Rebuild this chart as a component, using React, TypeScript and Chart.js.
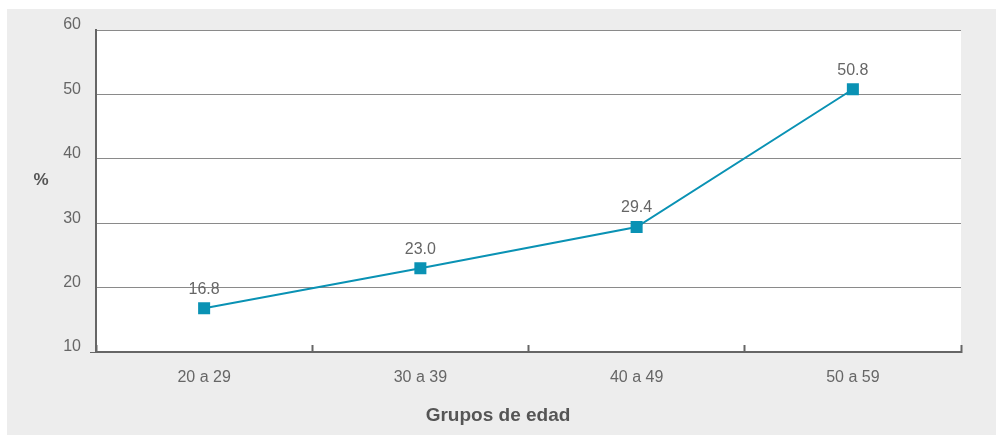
import React, { useEffect, useRef } from "react";
import { Chart, registerables } from "chart.js";

Chart.register(...registerables);

const categories = ["20 a 29", "30 a 39", "40 a 49", "50 a 59"];
const values = [16.8, 23.0, 29.4, 50.8];
const yTicks = [10, 20, 30, 40, 50, 60];
const xTitle = "Grupos de edad";
const yTitle = "%";

const FONT = "'Liberation Sans', Arial, sans-serif";
const TEXT = "#666666";
const LINE = "#0a92b4";

const bgPlugin = {
  id: "bg",
  beforeDraw(chart: any) {
    const { ctx, chartArea } = chart;
    ctx.save();
    ctx.fillStyle = "#ffffff";
    ctx.fillRect(0, 0, chart.width, chart.height);
    ctx.fillStyle = "#ededed";
    ctx.fillRect(7, 9, chart.width - 7, chart.height - 9);
    ctx.fillStyle = "#ffffff";
    ctx.fillRect(chartArea.left, chartArea.top, chartArea.right - chartArea.left, chartArea.bottom - chartArea.top);
    ctx.restore();
  },
};

const labelsPlugin = {
  id: "labels",
  afterDraw(chart: any) {
    const { ctx } = chart;
    const meta = chart.getDatasetMeta(0);
    ctx.save();
    ctx.fillStyle = TEXT;
    ctx.font = `16px ${FONT}`;
    ctx.textAlign = "center";
    ctx.textBaseline = "middle";
    meta.data.forEach((pt: any, i: number) => {
      ctx.fillText(values[i].toFixed(1), pt.x, pt.y - 19);
    });
    ctx.fillStyle = "#555555";
    ctx.font = `bold 19px ${FONT}`;
    ctx.fillText(xTitle, chart.width / 2, 416);
    ctx.font = `bold 17px ${FONT}`;
    ctx.fillText(yTitle, 41, 180);
    ctx.restore();
  },
};

export default function App() {
  const ref = useRef<HTMLCanvasElement>(null);
  useEffect(() => {
    if (!ref.current) return;
    const chart = new Chart(ref.current, {
      type: "line",
      data: {
        labels: categories,
        datasets: [
          {
            data: values,
            borderColor: LINE,
            backgroundColor: LINE,
            borderWidth: 2,
            pointStyle: "rect",
            pointRadius: 8.5,
            pointBorderWidth: 0,
            pointBackgroundColor: LINE,
            tension: 0,
          },
        ],
      },
      options: {
        responsive: false,
        animation: false,
        devicePixelRatio: 1,
        layout: { padding: { top: 30, right: 35, left: 0, bottom: 0 } },
        plugins: { legend: { display: false }, tooltip: { enabled: false }, title: { display: false } },
        scales: {
          x: {
            type: "category",
            offset: true,
            afterFit(scale: any) {
              scale.height = 83;
            },
            grid: {
              offset: true,
              drawOnChartArea: false,
              drawTicks: true,
              tickLength: -7,
              tickColor: "#666666",
              tickWidth: 2,
            },
            border: { display: true, color: "#666666", width: 2 },
            ticks: {
              color: TEXT,
              font: { family: FONT, size: 16 },
              padding: 23,
              maxRotation: 0,
            },
          },
          y: {
            min: 10,
            max: 60,
            afterFit(scale: any) {
              scale.width = 96;
            },
            afterBuildTicks(scale: any) {
              scale.ticks = yTicks.map((v) => ({ value: v }));
            },
            grid: {
              color: "#8a8a8a",
              lineWidth: 1,
              drawTicks: true,
              tickLength: 6,
              tickColor: (c: any) => (c.tick && c.tick.value === 10 ? "#666666" : "rgba(0,0,0,0)"),
            },
            border: { display: true, color: "#666666", width: 2 },
            ticks: {
              color: TEXT,
              font: { family: FONT, size: 16 },
              padding: 9,
              labelOffset: -5,
            },
          },
        },
      },
      plugins: [bgPlugin, labelsPlugin],
    } as any);
    return () => chart.destroy();
  }, []);
  return (
    <div style={{ position: "absolute", left: 0, top: 0, width: 996, height: 435 }}>
      <canvas ref={ref} width={996} height={435} style={{ width: 996, height: 435, display: "block" }} />
    </div>
  );
}
